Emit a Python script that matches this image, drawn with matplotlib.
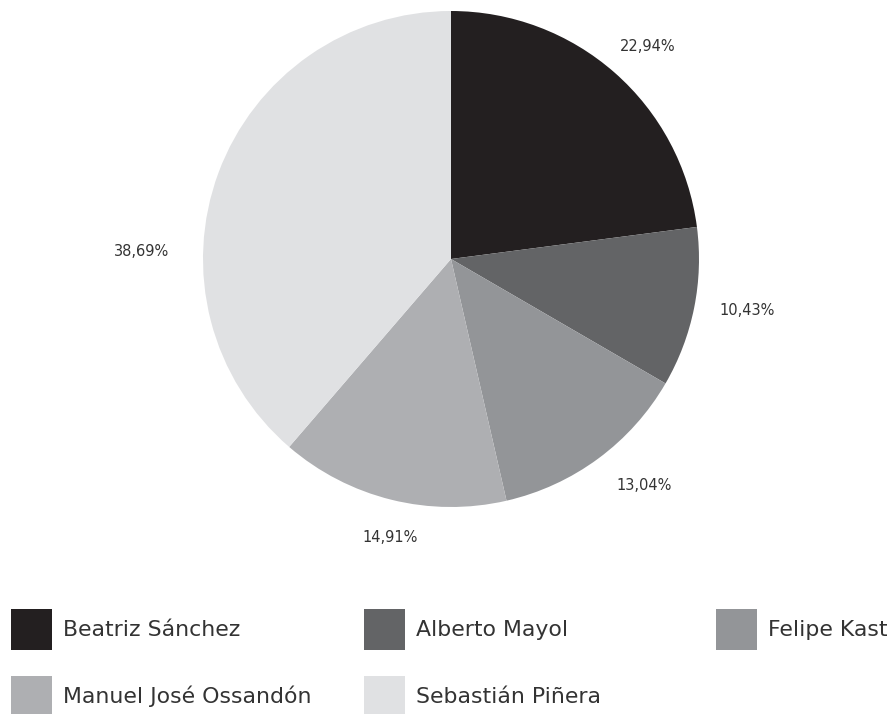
import numpy as np
import matplotlib
matplotlib.use('Agg')
import matplotlib.pyplot as plt
from matplotlib.patches import Rectangle

# Datos de la votación
candidatos = ['Beatriz Sánchez', 'Alberto Mayol', 'Felipe Kast',
              'Manuel José Ossandón', 'Sebastián Piñera']
porcentajes = [22.94, 10.43, 13.04, 14.91, 38.69]
colores = ['#231f20', '#636466', '#939598', '#aeafb2', '#e0e1e3']

W, H = 895, 714
fig = plt.figure(figsize=(W / 100, H / 100), dpi=100)
fig.patch.set_facecolor('white')

fuente = 'DejaVu Sans'
color_texto = '#333333'

# Torta: centro (451, 259) px, radio 248 px
cx, cy, r = 451, 259, 248
ax = fig.add_axes([(cx - r) / W, (H - cy - r) / H, 2 * r / W, 2 * r / H])
wedges, _ = ax.pie(porcentajes, colors=colores, startangle=90, counterclock=False,
                   radius=1, wedgeprops=dict(linewidth=0))
ax.set_xlim(-1, 1)
ax.set_ylim(-1, 1)
ax.set_aspect('equal')
ax.axis('off')

# Etiquetas de porcentaje junto a cada sector
dist_etiqueta = [1.17, 1.21, 1.2, 1.15, 1.25]
giro_etiqueta = [-1.5, 1.5, 4, 1.5, 19]
for w, p, d, g in zip(wedges, porcentajes, dist_etiqueta, giro_etiqueta):
    ang = np.deg2rad((w.theta1 + w.theta2) / 2 + g)
    ax.text(d * np.cos(ang), d * np.sin(ang), f'{p:.2f}%'.replace('.', ','),
            ha='center', va='center', fontsize=10.5, family=fuente,
            color=color_texto, clip_on=False)

# Leyenda manual en dos filas
leyenda_x = [11, 364, 716, 11, 364]
leyenda_y = [609, 609, 609, 676, 676]
lado = 41
for nombre, col, lx, ly in zip(candidatos, colores, leyenda_x, leyenda_y):
    fig.patches.append(Rectangle((lx / W, (H - ly - lado) / H), lado / W, lado / H,
                                 transform=fig.transFigure, facecolor=col,
                                 edgecolor='none'))
    fig.text((lx + lado + 11) / W, (H - ly - 27) / H, nombre,
             ha='left', va='baseline', fontsize=15.8, family=fuente,
             color=color_texto)

fig.savefig('out.png', dpi=100)
plt.close(fig)
